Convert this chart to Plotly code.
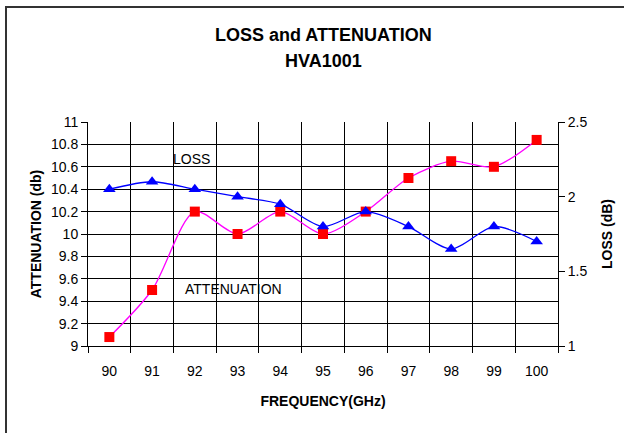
import plotly.graph_objects as go

freq = ["90", "91", "92", "93", "94", "95", "96", "97", "98", "99", "100"]
attenuation = [9.08, 9.5, 10.2, 10.0, 10.2, 10.0, 10.2, 10.5, 10.65, 10.6, 10.84]
loss = [2.05, 2.1, 2.05, 2.0, 1.95, 1.8, 1.9, 1.8, 1.65, 1.8, 1.7]
left_ticks = [9, 9.2, 9.4, 9.6, 9.8, 10, 10.2, 10.4, 10.6, 10.8, 11]
right_ticks = [1, 1.5, 2, 2.5]

W, H = 624, 433
L, R, T, B = 88, 66, 122, 87
pw, ph = W - L - R, H - T - B

def px(x):
    return (x - L) / pw

def py(y):
    return (H - B - y) / ph

FONT = "Liberation Sans, Arial, sans-serif"

fig = go.Figure()
fig.add_trace(go.Scatter(
    x=freq, y=attenuation, mode="lines+markers", name="ATTENUATION",
    line=dict(color="#FF00FF", width=1.3, shape="spline", smoothing=0.8),
    marker=dict(symbol="square", color="#FF0000", size=10),
    yaxis="y", cliponaxis=False,
))
fig.add_trace(go.Scatter(
    x=freq, y=loss, mode="lines+markers", name="LOSS",
    line=dict(color="#0000FF", width=1.3, shape="spline", smoothing=0.8),
    marker=dict(symbol="triangle-up", color="#0000FF", size=11),
    yaxis="y2", cliponaxis=False,
))

fig.update_layout(
    width=W, height=H,
    margin=dict(l=L, r=R, t=T, b=B, autoexpand=False),
    paper_bgcolor="white", plot_bgcolor="white",
    showlegend=False,
    font=dict(family=FONT, size=14, color="black"),
    xaxis=dict(
        type="category", range=[-0.5, len(freq) - 0.5], autorange=False,
        tickson="boundaries", ticks="outside", ticklen=6,
        tickcolor="black", showgrid=True, gridcolor="black", gridwidth=1,
        showline=True, linecolor="black", linewidth=1, mirror=False,
        tickfont=dict(size=14), automargin=False, ticklabelstandoff=12,
        title=dict(text="<b>FREQUENCY(GHz)</b>", font=dict(size=14), standoff=18),
    ),
    yaxis=dict(
        range=[9, 11], tickvals=left_ticks, ticktext=[f"{v:g}" for v in left_ticks],
        ticks="outside", ticklen=6, tickcolor="black",
        showgrid=True, gridcolor="black", gridwidth=1,
        showline=True, linecolor="black", linewidth=1, zeroline=False,
        tickfont=dict(size=14), automargin=False,
        title=dict(text="<b>ATTENUATION (db)</b>", font=dict(size=14), standoff=6),
    ),
    yaxis2=dict(
        range=[1, 2.5], tickvals=right_ticks, ticktext=[f"{v:g}" for v in right_ticks],
        overlaying="y", side="right",
        ticks="outside", ticklen=6, tickcolor="black",
        showgrid=False, showline=True, linecolor="black", linewidth=1, zeroline=False,
        tickfont=dict(size=14), automargin=False,
        title=dict(text="<b>LOSS (dB)</b>", font=dict(size=14), standoff=15),
    ),
    annotations=[
        dict(text="<b>LOSS and ATTENUATION</b>", x=0.5, xref="paper", y=py(35), yref="paper",
             showarrow=False, font=dict(size=18), xanchor="center", yanchor="middle"),
        dict(text="<b>HVA1001</b>", x=0.5, xref="paper", y=py(61), yref="paper",
             showarrow=False, font=dict(size=18), xanchor="center", yanchor="middle"),
        dict(text="LOSS", x=px(191), xref="paper", y=py(159), yref="paper",
             showarrow=False, font=dict(size=14), xanchor="center", yanchor="middle"),
        dict(text="ATTENUATION", x=px(233), xref="paper", y=py(289), yref="paper",
             showarrow=False, font=dict(size=14), xanchor="center", yanchor="middle"),
    ],
    shapes=[
        dict(type="line", xref="paper", yref="paper", x0=px(5), x1=px(W + 10),
             y0=py(7), y1=py(7), line=dict(color="#333333", width=2), layer="above"),
        dict(type="line", xref="paper", yref="paper", x0=px(6), x1=px(6),
             y0=py(6), y1=py(H + 10), line=dict(color="#333333", width=2), layer="above"),
    ],
)

fig.write_html(
    "out.html",
    config={"displayModeBar": False},
    post_script="document.body.style.margin='0';document.body.style.overflow='hidden';",
)
